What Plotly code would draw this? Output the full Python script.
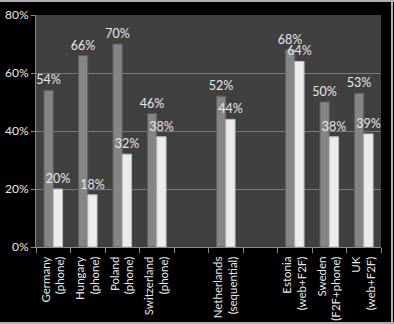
import plotly.graph_objects as go

categories = ["Germany<br>(phone)", "Hungary<br>(phone)", "Poland<br>(phone)",
              "Switzerland<br>(phone)", " ", "Netherlands<br>(sequential)", "  ",
              "Estonia<br>(web+F2F)", "Sweden<br>(F2F+phone)", "UK<br>(web+F2F)"]
series_a = [54, 66, 70, 46, None, 52, None, 68, 50, 53]
series_b = [20, 18, 32, 38, None, 44, None, 64, 38, 39]
y_ticks = [0, 20, 40, 60, 80]
y_tick_labels = ["0%", "20%", "40%", "60%", "80%"]

FONT = "Lato, 'Open Sans', sans-serif"

def labels(vals):
    return ["" if v is None else f"{v}%" for v in vals]

fig = go.Figure()
fig.add_trace(go.Bar(
    x=categories, y=series_a, text=labels(series_a), textposition="outside",
    cliponaxis=False, constraintext="none",
    textfont=dict(color="#e8e8e8", size=12.5, family=FONT),
    marker=dict(color="#858585", line=dict(color="#5e5e5e", width=1)),
))
fig.add_trace(go.Bar(
    x=categories, y=series_b, text=labels(series_b), textposition="outside",
    cliponaxis=False, constraintext="none",
    textfont=dict(color="#e8e8e8", size=12.5, family=FONT),
    marker=dict(color="#ececec", line=dict(color="#bdbdbd", width=1)),
))

fig.update_layout(
    width=394, height=324,
    margin=dict(l=36, r=13, t=15, b=77),
    paper_bgcolor="#000000", plot_bgcolor="#404040",
    barmode="group", bargap=0.46, bargroupgap=0.0,
    showlegend=False,
    font=dict(family=FONT, color="#e8e8e8", size=12.5),
    shapes=[
        dict(type="line", xref="paper", yref="paper", x0=-36/345, x1=(345+13)/345,
             y0=1 + 14/232, y1=1 + 14/232,
             line=dict(color="#b0b0b0", width=2)),
        dict(type="line", xref="paper", yref="paper", x0=(345+11)/345, x1=(345+11)/345,
             y0=-77/232, y1=1 + 15/232, line=dict(color="#b0b0b0", width=2)),
        dict(type="line", xref="paper", yref="paper", x0=-36/345, x1=(345+13)/345,
             y0=-76/232, y1=-76/232, line=dict(color="#b0b0b0", width=2)),
    ],
)
fig.update_yaxes(
    range=[0, 80], tickvals=y_ticks, ticktext=y_tick_labels,
    showgrid=True, gridcolor="#7a7a7a", gridwidth=1,
    showline=True, linecolor="#8a8a8a", linewidth=1,
    ticks="outside", ticklen=4, tickcolor="#8a8a8a",
    tickfont=dict(color="#e8e8e8", size=12, family=FONT),
    zeroline=False, automargin=False,
)
fig.update_xaxes(
    type="category", tickangle=-90, tickson="boundaries",
    showline=True, linecolor="#8a8a8a", linewidth=1,
    ticks="outside", ticklen=5, tickcolor="#8a8a8a",
    ticklabelstandoff=4,
    tickfont=dict(color="#e8e8e8", size=11.5, family=FONT),
    showgrid=False, automargin=False,
)

fig.write_html("out.html")
